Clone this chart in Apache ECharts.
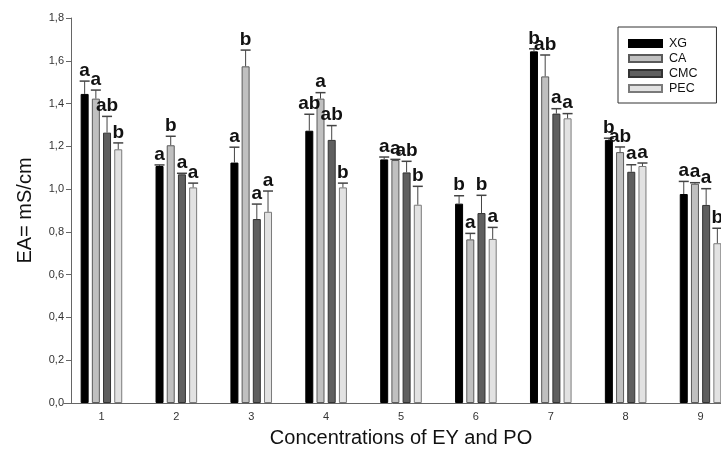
<!DOCTYPE html>
<html>
<head>
<meta charset="utf-8">
<script src="https://cdn.jsdelivr.net/npm/echarts@6/dist/echarts.min.js"></script>
<style>
  html, body { margin: 0; padding: 0; background: #fff; }
  #chart { width: 721px; height: 449px; }
</style>
</head>
<body>
<div id="chart"></div>
<script>
// data
const categories = ['1', '2', '3', '4', '5', '6', '7', '8', '9']
const seriesNames = ['XG', 'CA', 'CMC', 'PEC']

const xg  = [1.445, 1.108, 1.124, 1.273, 1.139, 0.932, 1.644, 1.230, 0.977]
const ca  = [1.423, 1.205, 1.574, 1.423, 1.136, 0.765, 1.527, 1.173, 1.025]
const cmc = [1.264, 1.069, 0.860, 1.230, 1.078, 0.888, 1.353, 1.081, 0.926]
const pec = [1.186, 1.008, 0.894, 1.008, 0.927, 0.767, 1.331, 1.108, 0.747]

const xgErr  = [0.060, 0.005, 0.072, 0.077, 0.011, 0.037, 0.012, 0.008, 0.059]
const caErr  = [0.040, 0.042, 0.076, 0.028, 0.003, 0.028, 0.100, 0.024, 0.005]
const cmcErr = [0.076, 0.005, 0.070, 0.067, 0.052, 0.083, 0.023, 0.033, 0.076]
const pecErr = [0.030, 0.020, 0.097, 0.020, 0.086, 0.054, 0.022, 0.014, 0.070]

const xgLetters  = ['a', 'a', 'a', 'ab', 'a', 'b', 'b', 'b', 'a']
const caLetters  = ['a', 'b', 'b', 'a', 'a', 'a', 'ab', 'ab', 'a']
const cmcLetters = ['ab', 'a', 'a', 'ab', 'ab', 'b', 'a', 'a', 'a']
const pecLetters = ['b', 'a', 'a', 'b', 'b', 'a', 'a', 'a', 'b']

const yTicks = [0, 0.2, 0.4, 0.6, 0.8, 1.0, 1.2, 1.4, 1.6, 1.8]

const values = [xg, ca, cmc, pec]
const errors = [xgErr, caErr, cmcErr, pecErr]
const letters = [xgLetters, caLetters, cmcLetters, pecLetters]

const fills = ['#000000', '#c0c0c0', '#5f5f5f', '#e2e2e2']
const borders = ['#000000', '#5a5a5a', '#333333', '#7a7a7a']

const BAR_W = 8
const STEP = 11.2 // barWidth + gap (barGap 40%)

const chart = echarts.init(document.getElementById('chart'))

const barSeries = seriesNames.map((name, i) => ({
  name,
  type: 'bar',
  data: values[i],
  barWidth: BAR_W,
  barGap: '40%',
  itemStyle: { color: fills[i], borderColor: borders[i], borderWidth: 1 },
  emphasis: { disabled: true },
  z: 2
}))

// error bars (upper only) plus significance letters
const errSeries = seriesNames.map((name, i) => ({
  name: name + '_err',
  type: 'custom',
  z: 5,
  silent: true,
  data: values[i].map((v, k) => [k, v, errors[i][k]]),
  renderItem: (params, api) => {
    const idx = api.value(0)
    const v = api.value(1)
    const e = api.value(2)
    const base = api.coord([idx, v])
    const x = base[0] + (i - 1.5) * STEP
    const yTop = base[1]
    const yCap = api.coord([idx, v + e])[1]
    return {
      type: 'group',
      children: [
        { type: 'line', shape: { x1: x, y1: yTop, x2: x, y2: yCap }, style: { stroke: '#444', lineWidth: 1 } },
        { type: 'line', shape: { x1: x - 5, y1: yCap, x2: x + 5, y2: yCap }, style: { stroke: '#444', lineWidth: 1.5 } },
        {
          type: 'text',
          style: {
            text: letters[i][idx],
            x: x,
            y: yCap - 1,
            align: 'center',
            verticalAlign: 'bottom',
            fontSize: 19,
            fontWeight: 'bold',
            fontFamily: 'Liberation Sans, Arial, sans-serif',
            fill: '#111'
          }
        }
      ]
    }
  }
}))

const option = {
  animation: false,
  backgroundColor: '#fff',
  grid: { left: 64, top: 18, width: 674, bottom: 46, outerBoundsMode: 'none' },
  legend: {
    data: seriesNames,
    orient: 'vertical',
    left: 618,
    top: 27,
    padding: [10, 19, 8, 10],
    itemGap: 2,
    itemWidth: 33,
    itemHeight: 7,
    icon: 'rect',
    borderColor: '#333',
    borderWidth: 1,
    textStyle: { fontSize: 12.5, color: '#111', fontFamily: 'Liberation Sans, Arial, sans-serif', padding: [0, 0, 0, 2] },
    selectedMode: false
  },
  xAxis: {
    type: 'category',
    data: categories,
    name: 'Concentrations of EY and PO',
    nameLocation: 'middle',
    nameGap: 25,
    nameTextStyle: { fontSize: 20, color: '#111', fontFamily: 'Liberation Sans, Arial, sans-serif' },
    axisLine: { lineStyle: { color: '#666', width: 1 } },
    axisTick: { alignWithLabel: true, length: 4, lineStyle: { color: '#666' } },
    axisLabel: { fontSize: 11, color: '#333', margin: 8, fontFamily: 'Liberation Sans, Arial, sans-serif' },
    splitLine: { show: false }
  },
  yAxis: {
    type: 'value',
    min: 0,
    max: 1.8,
    interval: 0.2,
    offset: -7,
    name: 'EA= mS/cm',
    nameLocation: 'middle',
    nameGap: 36,
    nameRotate: 90,
    nameTextStyle: { fontSize: 20, color: '#111', fontFamily: 'Liberation Sans, Arial, sans-serif' },
    axisLine: { show: true, lineStyle: { color: '#666', width: 1 } },
    axisTick: { show: true, length: 5, lineStyle: { color: '#666' } },
    axisLabel: {
      fontSize: 11,
      color: '#333',
      margin: 7,
      fontFamily: 'Liberation Sans, Arial, sans-serif',
      formatter: v => {
        const t = yTicks.find(y => Math.abs(y - v) < 1e-6)
        return t === undefined ? '' : t.toFixed(1).replace('.', ',')
      }
    },
    splitLine: { show: false }
  },
  series: [...barSeries, ...errSeries]
}

chart.setOption(option)
</script>
</body>
</html>
